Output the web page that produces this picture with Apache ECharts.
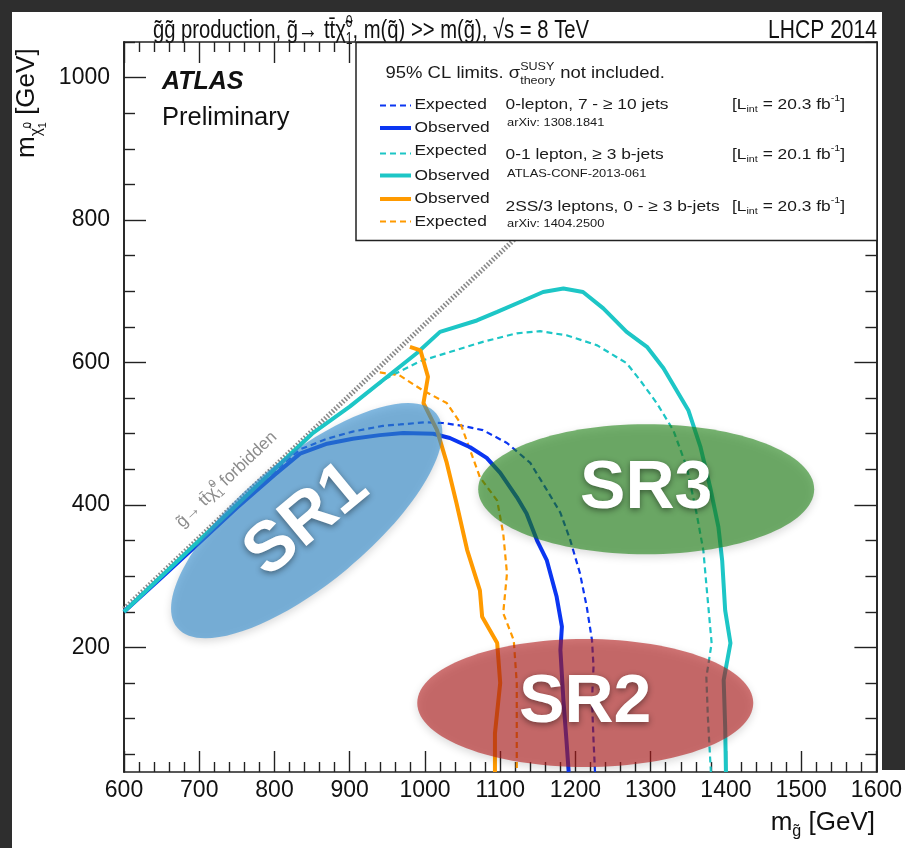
<!DOCTYPE html>
<html><head><meta charset="utf-8">
<script src="https://cdn.jsdelivr.net/npm/echarts@6/dist/echarts.min.js"></script>
<style>html,body{margin:0;padding:0;background:#2e2e2e;} #c{width:905px;height:848px;}</style>
</head><body><div id="c"></div>
<script>
const FONT = '"Liberation Sans", Arial, Helvetica, sans-serif';

// ---- data (GeV) ----
const xTicks = [600, 700, 800, 900, 1000, 1100, 1200, 1300, 1400, 1500, 1600];
const yTickLabels = [200, 400, 600, 800, 1000];
const yMinorTicks = [50, 100, 150, 250, 300, 350, 450, 500, 550, 650, 700, 750, 850, 900, 950, 1050];

const kinLimit = [[600, 254], [1300, 954]];

const obs0L = [[600,250],[650,298],[700,347],[750,396],[800,442],[834,472],[870,486],[904,493],[940,498],[971,501],[1011,500],[1033,494],[1060,481],[1082,466],[1100,445],[1122,411],[1135,388],[1149,350],[1162,322],[1175,271],[1182,229],[1180,196],[1184,126],[1188,70],[1191,25]];
const exp0L = [[600,252],[700,350],[800,447],[834,478],[870,493],[904,503],[944,511],[967,513],[1000,516],[1024,515],[1050,511],[1077,505],[1109,487],[1140,459],[1162,421],[1180,389],[1193,351],[1206,304],[1215,257],[1222,210],[1224,173],[1222,126],[1224,70],[1226,25]];
const obs1L = [[600,250],[700,350],[800,450],[850,500],[900,538],[944,575],[989,613],[1020,643],[1069,659],[1096,671],[1131,687],[1157,699],[1184,704],[1210,699],[1237,676],[1268,643],[1295,622],[1317,592],[1350,533],[1366,482],[1379,425],[1390,369],[1395,322],[1399,252],[1406,206],[1397,154],[1399,88],[1400,25]];
const exp1L = [[600,250],[700,350],[800,450],[850,500],[900,538],[949,578],[994,602],[1034,615],[1077,629],[1122,641],[1153,644],[1189,638],[1229,624],[1268,599],[1286,575],[1308,543],[1330,505],[1348,453],[1361,388],[1370,336],[1375,276],[1381,206],[1374,158],[1376,102],[1380,25]];
const obsSS = [[980,622],[994,617],[1004,580],[998,543],[1016,505],[1029,459],[1042,402],[1056,337],[1073,280],[1076,243],[1096,206],[1100,150],[1093,79],[1093,25]];
const expSS = [[940,586],[966,582],[997,561],[1029,543],[1047,515],[1060,477],[1073,439],[1096,406],[1104,360],[1109,304],[1104,248],[1118,210],[1122,150],[1122,25]];

const regionNames = ['SR1', 'SR3', 'SR2'];
const regionCenters = [[843, 378], [1294, 422], [1213, 122]];
const forbiddenAnchor = [673, 372];

const legendLabels = ['Expected', 'Observed', 'Expected', 'Observed', 'Observed', 'Expected'];
const analyses = ['0-lepton, 7 - \u2265 10 jets', '0-1 lepton, \u2265 3 b-jets', '2SS/3 leptons, 0 - \u2265 3 b-jets'];
const references = ['arXiv: 1308.1841', 'ATLAS-CONF-2013-061', 'arXiv: 1404.2500'];
const lumis = ['20.3', '20.1', '20.3'];

// ---- styles ----
const C_BLUE = '#0b36f2', C_CYAN = '#1dc6c6', C_ORANGE = '#ff9a00';
const regionStyle = [
  {fill: 'rgba(50,142,208,0.6)', rx: 168, ry: 63, rot: 39.6, fs: 70},
  {fill: 'rgba(31,131,22,0.6)', rx: 168, ry: 65, rot: 0, fs: 68},
  {fill: 'rgba(180,26,26,0.6)', rx: 168, ry: 64, rot: 0, fs: 68}
];

const mctx = document.createElement('canvas').getContext('2d');
function tw(t, font) { mctx.font = font; return mctx.measureText(t).width; }
function run(pieces, opt) {
  const items = []; let adv = 0, held = 0;
  for (const raw of pieces) {
    const p = typeof raw === 'string' ? {t: raw} : raw;
    const size = opt.size * (p.k || 1);
    const font = (opt.italic ? 'italic ' : '') + (opt.weight || 'normal') + ' ' + size + 'px ' + FONT;
    const w = tw(p.t, font);
    items.push({t: p.t, font: font, off: adv, dy: (p.dy || 0) * opt.size});
    if (p.hold) { held = w; } else { adv += Math.max(w, held); held = 0; }
  }
  let sx = opt.sx || 1;
  if (opt.fit) sx = opt.fit / adv;
  const total = adv * sx;
  const x0 = opt.align === 'right' ? opt.x - total : (opt.align === 'center' ? opt.x - total / 2 : opt.x);
  return items.map(it => ({
    type: 'text', x: x0 + it.off * sx, y: opt.y + it.dy, scaleX: sx, z: opt.z || 0, silent: true,
    style: {text: it.t, font: it.font, fill: opt.color || '#111', align: 'left', verticalAlign: 'middle'}
  }));
}
const SUP = (t, k) => ({t: t, k: k || 0.62, dy: -0.38, hold: true});
const SUPN = (t, k) => ({t: t, k: k || 0.62, dy: -0.38});
const SUB = (t, k) => ({t: t, k: k || 0.62, dy: 0.34});

// ---- graphics ----
const g = [];
g.push({type: 'rect', z: -10, silent: true, shape: {x: 12, y: 12, width: 870, height: 836}, style: {fill: '#fff'}});
g.push({type: 'rect', z: -10, silent: true, shape: {x: 830, y: 770, width: 75, height: 78}, style: {fill: '#fff'}});

// title
g.push(...run(['g\u0303g\u0303 production, g\u0303\u2192 tt\u0304', '\u03c7\u0303', {t: '0', k: 0.6, dy: -0.32, hold: true}, SUB('1', 0.6), ', m(q\u0303) >> m(g\u0303), \u221as = 8 TeV'],
  {x: 153, y: 31, size: 26, fit: 436}));
g.push(...run(['LHCP 2014'], {x: 877, y: 31, size: 26, sx: 0.81, align: 'right'}));

// ATLAS label
g.push(...run(['ATLAS'], {x: 162, y: 82, size: 25, weight: 'bold', italic: true}));
g.push(...run(['Preliminary'], {x: 162, y: 118, size: 25.5}));

// axis titles
g.push(...run(['m', SUB('g\u0303', 0.62), ' [GeV]'], {x: 875, y: 823, size: 26, align: 'right'}));
g.push({type: 'group', x: 27, y: 158, rotation: Math.PI / 2, silent: true,
  children: run(['m', {t: '\u03c7\u0303', k: 0.6, dy: 0.36}, {t: '0', k: 0.42, dy: 0.02, hold: true}, {t: '1', k: 0.42, dy: 0.62}, ' [GeV]'], {x: 0, y: 0, size: 26})});

// legend box
const LZ = 50;
g.push({type: 'rect', z: LZ, silent: true, shape: {x: 356, y: 42.5, width: 521, height: 198}, style: {fill: '#fff', stroke: '#222', lineWidth: 1.5}});
const LS = {size: 15.5, sx: 1.12, z: LZ + 1, color: '#1a1a1a'};
g.push(...run(['95% CL limits. \u03c3', SUP('SUSY', 0.68), {t: 'theory', k: 0.68, dy: 0.42}, ' not included.'], Object.assign({}, LS, {x: 385.5, y: 73.5, size: 16.5})));
const rowY = [105.5, 128, 153.5, 175.5, 199, 221.5];
const labY = [104.5, 128, 151, 175.5, 199, 221.5];
const rowColor = [C_BLUE, C_BLUE, C_CYAN, C_CYAN, C_ORANGE, C_ORANGE];
rowY.forEach((y, i) => {
  const dashed = legendLabels[i] === 'Expected';
  g.push({type: 'line', z: LZ + 1, silent: true, shape: {x1: 380, y1: y, x2: 411, y2: y},
    style: {stroke: rowColor[i], lineWidth: dashed ? 2 : 4, lineDash: dashed ? [6, 4] : null}});
  g.push(...run([legendLabels[i]], Object.assign({x: 414.5, y: labY[i]}, LS)));
});
const anaY = [104.5, 154.5, 206.5];
const refY = [123, 174, 223.5];
analyses.forEach((a, i) => {
  g.push(...run([a], Object.assign({x: 505.5, y: anaY[i]}, LS)));
  g.push(...run([references[i]], Object.assign({x: 507, y: refY[i]}, LS, {size: 11.5})));
  g.push(...run(['[L', SUB('int', 0.62), ' = ' + lumis[i] + ' fb', SUPN('-1', 0.62), ']'], Object.assign({x: 732, y: anaY[i]}, LS)));
});

// ---- chart ----
const chart = echarts.init(document.getElementById('c'), null, {renderer: 'canvas', width: 905, height: 848});
const axisLine = {show: true, lineStyle: {color: '#222', width: 1.6}};
const tickStyle = {color: '#222', width: 1.4};
const plain = v => String(v);
function xAx(pos, labels) {
  return {type: 'value', min: xTicks[0], max: xTicks[xTicks.length - 1], interval: 100, position: pos,
    axisLine: axisLine, splitLine: {show: false},
    axisTick: {show: true, inside: true, length: 21, lineStyle: tickStyle},
    minorTick: {show: true, splitNumber: 5, length: 10, lineStyle: tickStyle},
    axisLabel: {show: labels, fontFamily: FONT, fontSize: 23, color: '#111', margin: 7, formatter: plain}};
}
function yAx(pos, major, labels) {
  return {type: 'value', min: 25, max: 1050, position: pos, offset: 0,
    axisLine: axisLine, splitLine: {show: false},
    axisTick: {show: true, inside: true, length: major ? 22 : 11, lineStyle: tickStyle, customValues: major ? yTickLabels : yMinorTicks},
    axisLabel: {show: labels, fontFamily: FONT, fontSize: 23, color: '#111', margin: 14, customValues: yTickLabels, formatter: plain}};
}
function ln(name, data, color, dashed) {
  return {type: 'line', name: name, data: data, symbol: 'none', showSymbol: false, smooth: false, silent: true,
    z: dashed ? 3 : 4, lineStyle: {color: color, width: dashed ? 2.2 : 4, type: dashed ? [6, 4] : 'solid'}};
}

chart.setOption({
  animation: false,
  backgroundColor: '#2e2e2e',
  grid: {left: 124, top: 42, width: 753, height: 730, containLabel: false},
  xAxis: [xAx('bottom', true), xAx('top', false)],
  yAxis: [yAx('left', true, true), yAx('left', false, false), yAx('right', true, false), yAx('right', false, false)],
  graphic: {elements: g},
  series: [
    {type: 'line', name: 'forbidden', data: kinLimit, symbol: 'none', silent: true, z: 2,
      lineStyle: {color: '#8a8a8a', width: 5, type: [1.6, 1.9]}},
    ln('Expected 0-lepton', exp0L, C_BLUE, true),
    ln('Expected 0-1 lepton', exp1L, C_CYAN, true),
    ln('Expected 2SS/3L', expSS, C_ORANGE, true),
    ln('Observed 0-lepton', obs0L, C_BLUE, false),
    ln('Observed 0-1 lepton', obs1L, C_CYAN, false),
    ln('Observed 2SS/3L', obsSS, C_ORANGE, false),
    {type: 'custom', name: 'forbiddenLabel', z: 5, silent: true, data: [forbiddenAnchor],
      renderItem: function (params, api) {
        const p = api.coord([api.value(0), api.value(1)]);
        const a = api.coord(kinLimit[0]), b = api.coord(kinLimit[1]);
        const ang = Math.atan2(a[1] - b[1], b[0] - a[0]);
        return {type: 'group', x: p[0], y: p[1], rotation: ang,
          children: run(['g\u0303\u2192 tt\u0304\u03c7\u0303', SUP('0', 0.65), SUB('1', 0.65), ' forbidden'], {x: 0, y: 0, size: 17, color: '#8c8c8c'})};
      }},
    {type: 'custom', name: 'regions', z: 6, silent: true, data: regionCenters.map((c, i) => [c[0], c[1], i]),
      renderItem: function (params, api) {
        const i = api.value(2);
        const p = api.coord([api.value(0), api.value(1)]);
        const st = regionStyle[i];
        const rot = st.rot * Math.PI / 180;
        return {type: 'group', children: [
          {type: 'ellipse', x: p[0], y: p[1], rotation: rot, shape: {cx: 0, cy: 0, rx: st.rx, ry: st.ry},
            style: {fill: st.fill, shadowBlur: 8, shadowColor: 'rgba(0,0,0,0.25)', shadowOffsetY: 3}},
          {type: 'text', x: p[0], y: p[1], rotation: rot,
            style: {text: regionNames[i], font: 'bold ' + st.fs + 'px ' + FONT, fill: '#fff', align: 'center', verticalAlign: 'middle',
              textShadowBlur: 6, textShadowColor: 'rgba(0,0,0,0.45)', textShadowOffsetY: 2}}
        ]};
      }}
  ]
});
</script></body></html>
